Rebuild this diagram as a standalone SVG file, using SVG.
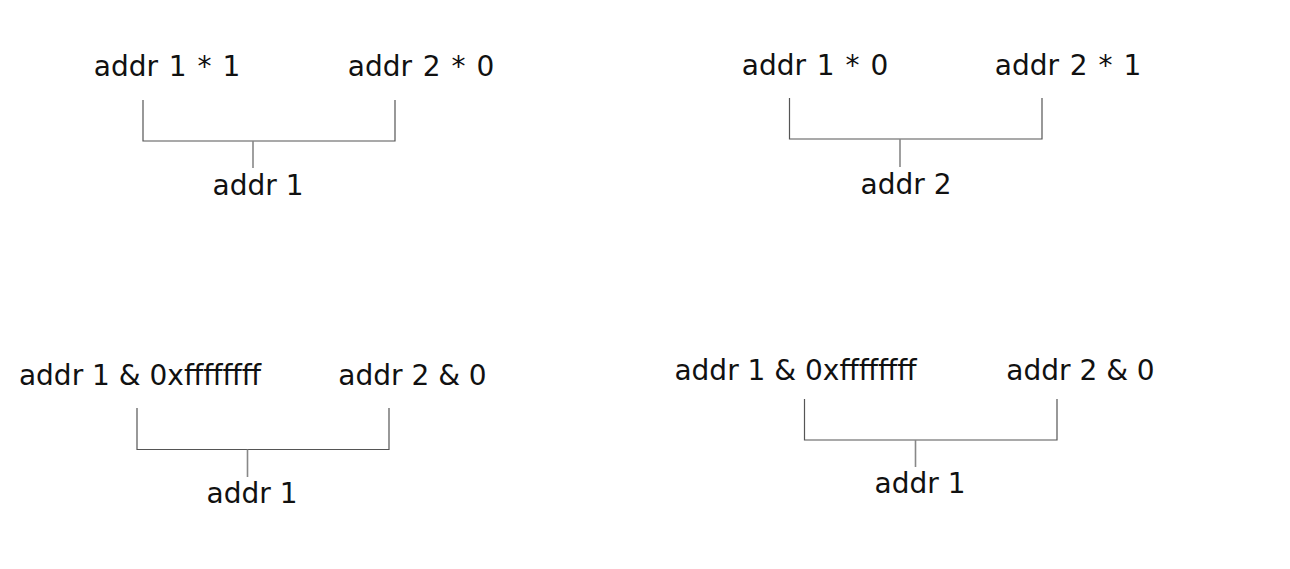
<svg xmlns="http://www.w3.org/2000/svg" width="1290" height="569" viewBox="0 0 1290 569">
<style>
text{font-family:"DejaVu Sans","Verdana",sans-serif;font-size:28px;fill:#111;text-anchor:middle}
.ws{word-spacing:2px}
.br{fill:none;stroke:#555;stroke-width:1.2}
.st{stroke:#888;stroke-width:1.6}
</style>
<rect width="1290" height="569" fill="#fff"/>
<g id="connectors">
<path class="br" d="M143,100 V141 H395 V100"/>
<line class="st" x1="253" y1="141" x2="253" y2="168"/>
<path class="br" d="M789.5,98 V139 H1042 V98"/>
<line class="st" x1="900" y1="139" x2="900" y2="167"/>
<path class="br" d="M137,408 V449.5 H389 V408"/>
<line class="st" x1="247.5" y1="449.5" x2="247.5" y2="477"/>
<path class="br" d="M804.5,399 V440 H1057 V399"/>
<line class="st" x1="915.5" y1="440" x2="915.5" y2="467"/>
</g>
<g id="p1-left"><text class="ws" x="167" y="76">addr 1 * 1</text></g>
<g id="p1-right"><text class="ws" x="421" y="76">addr 2 * 0</text></g>
<g id="p1-result"><text x="258" y="195">addr 1</text></g>
<g id="p2-left"><text class="ws" x="815" y="75">addr 1 * 0</text></g>
<g id="p2-right"><text class="ws" x="1068" y="75">addr 2 * 1</text></g>
<g id="p2-result"><text x="906" y="194">addr 2</text></g>
<g id="p3-left"><text x="140" y="385">addr 1 &amp; 0xffffffff</text></g>
<g id="p3-right"><text x="412.5" y="385">addr 2 &amp; 0</text></g>
<g id="p3-result"><text x="252" y="503">addr 1</text></g>
<g id="p4-left"><text x="795.5" y="380">addr 1 &amp; 0xffffffff</text></g>
<g id="p4-right"><text x="1080.5" y="380">addr 2 &amp; 0</text></g>
<g id="p4-result"><text x="920" y="493">addr 1</text></g>
</svg>
